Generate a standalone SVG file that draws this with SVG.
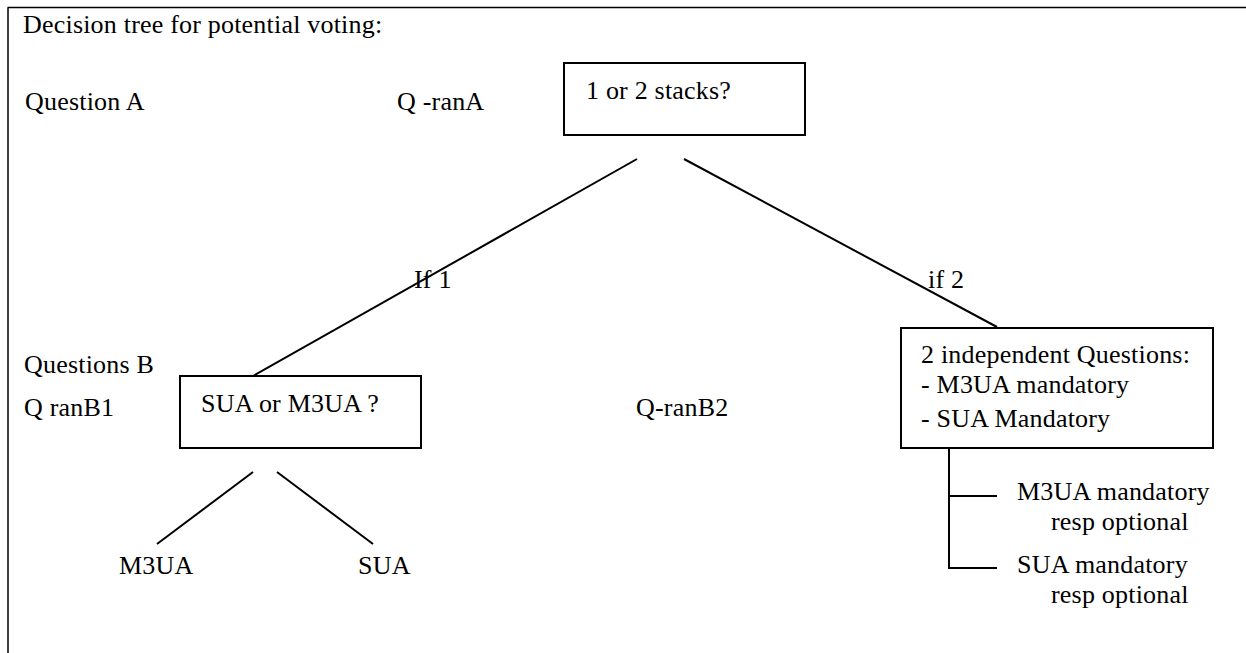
<svg xmlns="http://www.w3.org/2000/svg" width="1246" height="653" viewBox="0 0 1246 653">
<style>
text{font-family:"Liberation Serif","Times New Roman",serif;font-size:26px;letter-spacing:0.2px;fill:#000}
.box{fill:#fff;stroke:#000;stroke-width:2}
.ln{stroke:#000;stroke-width:2;fill:none}
.fr{stroke:#000;stroke-width:1.5;fill:none}
</style>
<rect width="1246" height="653" fill="#fff"/>
<g id="frame">
<path class="fr" d="M7.5 7.5H1246M8 7.5V653"/>
</g>
<g id="labels">
<text x="23" y="33">Decision tree for potential voting:</text>
<text x="25" y="110">Question A</text>
<text x="397" y="110">Q -ranA</text>
<text x="24" y="373">Questions B</text>
<text x="24" y="416">Q ranB1</text>
<text x="636" y="416">Q-ranB2</text>
</g>
<g id="connectors">
<line class="ln" x1="637" y1="159" x2="253" y2="376"/>
<line class="ln" x1="684" y1="159" x2="997" y2="327"/>
<line class="ln" x1="253" y1="472" x2="157" y2="544"/>
<line class="ln" x1="277" y1="472" x2="373" y2="544"/>
<path class="ln" d="M949 448V568H997M949 496H997"/>
<text x="414" y="288">If 1</text>
<text x="928" y="288">if 2</text>
</g>
<g id="node-stacks">
<rect class="box" x="564" y="63" width="241" height="72"/>
<text x="586" y="99">1 or 2 stacks?</text>
</g>
<g id="node-sua-m3ua">
<rect class="box" x="180" y="376" width="241" height="72"/>
<text x="201" y="412">SUA or M3UA ?</text>
</g>
<g id="node-m3ua">
<text x="119" y="574">M3UA</text>
</g>
<g id="node-sua">
<text x="358" y="574">SUA</text>
</g>
<g id="node-independent">
<rect class="box" x="901" y="328" width="312" height="120"/>
<text x="921" y="363">2 independent Questions:</text>
<text x="921" y="393">- M3UA mandatory</text>
<text x="921" y="427">- SUA Mandatory</text>
</g>
<g id="node-m3ua-mandatory">
<text x="1017" y="500">M3UA mandatory</text>
<text x="1051" y="530">resp optional</text>
</g>
<g id="node-sua-mandatory">
<text x="1017" y="573">SUA mandatory</text>
<text x="1051" y="603">resp optional</text>
</g>
</svg>
